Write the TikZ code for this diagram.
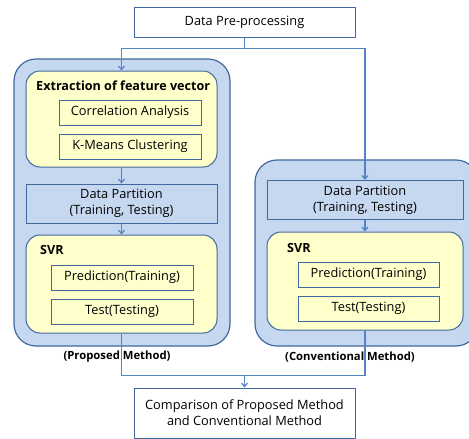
\documentclass[tikz,border=0pt]{standalone}
\usepackage{fontspec}
\setmainfont{Open Sans}
\usepackage{tikz}
\usetikzlibrary{positioning}
\usetikzlibrary{calc,arrows.meta}
\definecolor{edgeblue}{RGB}{65,105,160}
\definecolor{lineblue}{RGB}{84,130,196}
\definecolor{paneblue}{RGB}{198,216,240}
\definecolor{paleyellow}{RGB}{255,255,204}

\begin{document}
\begin{tikzpicture}[x=1pt, y=-1pt,
    every node/.style={font=\fontsize{12.8}{16}\selectfont, inner sep=0pt},
    flowbox/.style={draw=edgeblue, line width=1pt, fill=white, align=center},
    panel/.style={draw=edgeblue, line width=1.2pt, fill=paneblue, rounded corners=22pt},
    stage/.style={draw=edgeblue, line width=1pt, fill=paleyellow, rounded corners=14pt},
    subbox/.style={draw=edgeblue, line width=1pt, fill=paleyellow, minimum width=142pt, minimum height=25pt},
    partbox/.style={draw=edgeblue, line width=1pt, fill=paneblue, minimum width=191pt, minimum height=39pt, align=center},
    heading/.style={font=\fontsize{12.6}{14}\selectfont\bfseries, anchor=west},
    caption/.style={font=\fontsize{11.3}{13}\selectfont\bfseries},
    link/.style={draw=lineblue, line width=1.2pt},
    flow/.style={link, -{Straight Barb[length=3.5pt, width=6pt]}}]
      \useasboundingbox (0,0) rectangle (469,439);

      % left panel (proposed)
      \draw[panel] (14,59) rectangle (230,346);
      \node(extract) [stage, minimum width=191pt, minimum height=96pt] at (121.5,119) {};
      \node(extracttxt) [heading] at (36,86) {Extraction of feature vector};
      \node(corr) [subbox] at (130,112.5) {Correlation Analysis};
      \node(kmeans) [subbox] at (130,146.5) {K-Means Clustering};
      \node(partl) [partbox] at (121.5,203.5) {Data Partition\\(Training, Testing)};
      \node(svrl) [stage, minimum width=191pt, minimum height=98pt] at (121.5,284) {};
      \node(svrltxt) [heading] at (40,250) {SVR};
      \node(predl) [subbox] at (122,277.5) {Prediction(Training)};
      \node(testl) [subbox] at (122,311.5) {Test(Testing)};
      \node(proposed) [caption] at (117,357) {(Proposed Method)};

      % right panel (conventional)
      \draw[panel] (255,160) rectangle (478,346);
      \node(partr) [partbox, minimum width=196pt] at (365,200) {Data Partition\\(Training, Testing)};
      \node(svrr) [stage, minimum width=196pt, minimum height=98pt] at (365,281) {};
      \node(svrrtxt) [heading] at (287,248) {SVR};
      \node(predr) [subbox, minimum width=141pt] at (368.5,274.5) {Prediction(Training)};
      \node(testr) [subbox, minimum width=141pt] at (368.5,308.5) {Test(Testing)};
      \node(conventional) [caption] at (350,357) {(Conventional Method)};

      % top and bottom boxes
      \node(pre) [flowbox, minimum width=221pt, minimum height=30pt] at (244.5,22) {Data Pre-processing};
      \node(comp) [flowbox, minimum width=221pt, minimum height=50pt] at (244.5,413) {Comparison of Proposed Method\\and Conventional Method};

      \coordinate (split) at ($(pre.south)+(0,11)$);
      \coordinate (merge) at ($(comp.north)+(0,-12)$);

      \draw[link] (pre.south) -- (split);
      \draw[flow] (split) -| (extract.north);
      \draw[flow] (split) -| (partr.north);
      \draw[flow] (extract.south) -- (partl.north);
      \draw[flow] (partl.south) -- (svrl.north);
      \draw[flow] (partr.south) -- (svrr.north);
      \draw[link] (svrl.south) |- (merge) -| (svrr.south);
      \draw[flow] (merge) -- (comp.north);
    \end{tikzpicture}
\end{document}
